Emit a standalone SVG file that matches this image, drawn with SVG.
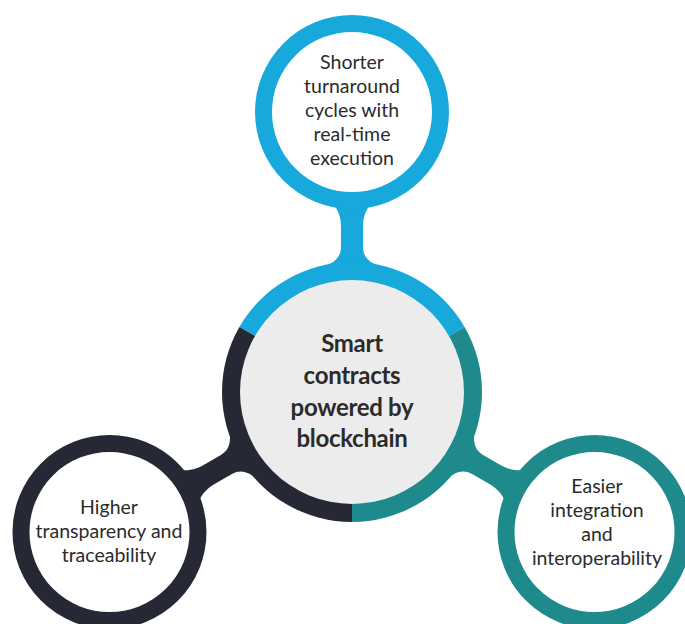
<svg xmlns="http://www.w3.org/2000/svg" xmlns:xlink="http://www.w3.org/1999/xlink" width="685" height="624" viewBox="0 0 685 624">
<style>
.txt{font-family:Lato,"Open Sans","Noto Sans",sans-serif;fill:#2b2b2b;text-anchor:middle}
.sat{font-size:19.5px}
.ctr{font-size:24px;font-weight:700;letter-spacing:-0.3px}
.blue{fill:#17a9dc}
.teal{fill:#1e8a8b}
.dark{fill:#272836}
.ringb{fill:#ffffff;stroke-width:17}
</style>
<defs>
<path id="neck" d="M 332,202 C 340,212 341,220 341,228 L 341,247 C 341,259 332,264 318,269 L 386,269 C 372,264 363,259 363,247 L 363,228 C 363,220 364,212 372,202 Z"/>
</defs>
<rect width="685" height="624" fill="#ffffff"/>
<g id="connectors">
<use xlink:href="#neck" class="blue"/>
<use xlink:href="#neck" class="teal" transform="rotate(120 352 392)"/>
<use xlink:href="#neck" class="dark" transform="rotate(240 352 392)"/>
</g>
<g id="center">
<path class="blue" d="M352 392 L239.42 327 A130 130 0 0 1 464.58 327 Z"/>
<path class="teal" d="M352 392 L464.58 327 A130 130 0 0 1 352 522 Z"/>
<path class="dark" d="M352 392 L352 522 A130 130 0 0 1 239.42 327 Z"/>
<circle cx="352" cy="392" r="112" fill="#ececec"/>
<text class="txt ctr"><tspan x="352" y="352">Smart</tspan><tspan x="352" y="384">contracts</tspan><tspan x="352" y="416">powered by</tspan><tspan x="352" y="447">blockchain</tspan></text>
</g>
<g id="top">
<circle class="ringb" cx="352" cy="112" r="88.5" stroke="#17a9dc"/>
<text class="txt sat"><tspan x="352" y="69">Shorter</tspan><tspan x="352" y="93">turnaround</tspan><tspan x="352" y="117">cycles with</tspan><tspan x="352" y="141">real-time</tspan><tspan x="352" y="165">execution</tspan></text>
</g>
<g id="right">
<circle class="ringb" cx="594.5" cy="532" r="88.5" stroke="#1e8a8b"/>
<text class="txt sat"><tspan x="597" y="493">Easier</tspan><tspan x="597" y="517">integration</tspan><tspan x="597" y="541">and</tspan><tspan x="597" y="565">interoperability</tspan></text>
</g>
<g id="left">
<circle class="ringb" cx="109.5" cy="532" r="88.5" stroke="#272836"/>
<text class="txt sat"><tspan x="109" y="514">Higher</tspan><tspan x="109" y="538">transparency and</tspan><tspan x="109" y="562">traceability</tspan></text>
</g>
</svg>
